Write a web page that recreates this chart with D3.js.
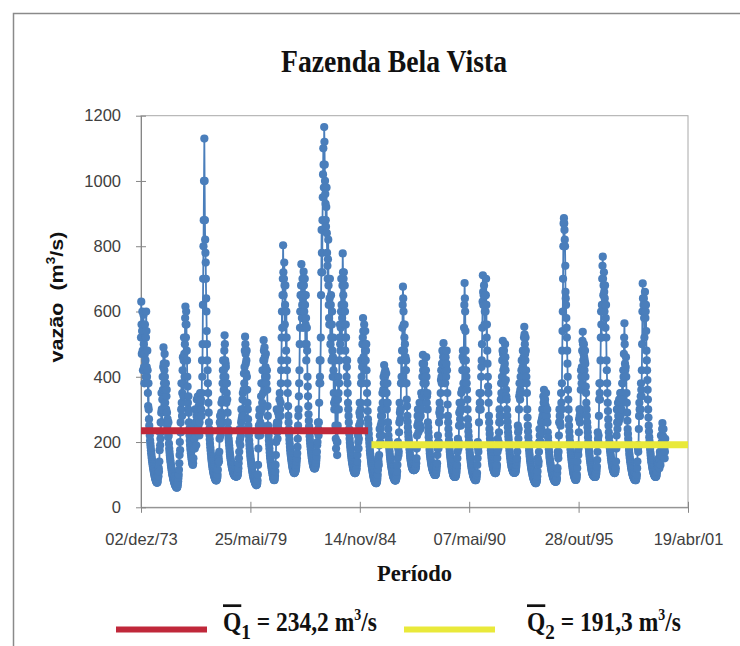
<!DOCTYPE html>
<html><head><meta charset="utf-8">
<script src="https://cdn.jsdelivr.net/npm/d3@7"></script>
<style>body{margin:0;background:#fff} svg{display:block}</style>
</head><body>
<svg id="chart" width="740" height="646"></svg>
<script>
const chartTitle = "Fazenda Bela Vista";
const xTitle = "Período";
const yTicks = [0, 200, 400, 600, 800, 1000, 1200];
const xTickDates = ["1973-12-02", "1979-05-25", "1984-11-14", "1990-05-07", "1995-10-28", "2001-04-19"];
const xTickLabels = ["02/dez/73", "25/mai/79", "14/nov/84", "07/mai/90", "28/out/95", "19/abr/01"];
const meanIndex = ["1", "2"];
const meanValues = [234.2, 191.3];
const meanLabels = ["234,2", "191,3"];
const meanStarts = ["1973-12-02", "1985-06-15"];
const meanEnds = ["1985-04-15", "2001-04-19"];
const meanColors = ["#c0283a", "#e9e93a"];
// series starts December 1973, six readings per month (days 2, 7, 12, 17, 22, 27)
const seriesStartYear = 1973, seriesStartMonth = 11;
const flow = [
/*Dec73-Nov74*/ 520,630,560,470,540,600, 480,420,560,590,500,430, 380,470,560,520,450,400, 520,600,540,430,400,480, 420,350,310,380,300,270, 250,235,220,205,195,185, 175,166,158,150,144,138, 132,126,121,116,111,106, 101,97,93,90,87,84, 81,79,77,76,75,76, 80,88,105,95,120,110, 140,175,230,190,210,260,
/*Dec74-Nov75*/ 230,290,350,300,260,330, 400,360,430,490,440,380, 420,470,400,320,360,440, 380,300,340,360,290,250, 270,230,215,260,220,195, 180,170,160,152,145,138, 130,124,118,112,107,102, 98,94,90,86,83,80, 77,74,71,69,67,65, 63,62,61,60,61,63, 66,72,80,90,100,115, 135,160,200,175,230,260,
/*Dec75-Nov76*/ 230,300,380,320,280,350, 420,460,380,340,450,520, 470,400,500,580,615,560, 520,600,560,480,450,400, 370,320,300,340,290,260, 240,220,205,192,182,174, 166,158,151,145,140,135, 132,130,135,150,180,210, 250,210,180,230,300,260, 220,190,280,330,260,230, 300,340,280,250,310,270, 220,260,330,350,300,320,
/*Dec76-Nov77*/ 330,300,280,350,450,400, 500,620,700,800,880,1000, 1130,1000,880,820,780,750, 700,640,600,540,500,450, 420,380,350,320,290,260, 240,222,208,195,184,174, 164,155,147,140,133,127, 121,116,111,107,103,99, 96,93,90,88,86,84, 83,82,83,85,88,92, 100,115,135,160,150,140, 170,210,260,280,240,220,
/*Dec77-Nov78*/ 250,290,320,280,260,330, 380,420,450,400,360,420, 480,527,500,450,400,440, 430,380,320,350,380,330, 290,260,240,225,210,200, 190,180,170,162,155,149, 143,137,132,127,123,119, 115,112,109,106,103,101, 99,98,97,96,95,95, 94,94,94,95,95,96, 98,102,110,120,135,150, 170,200,240,210,190,230,
/*Dec78-Nov79*/ 220,260,300,270,240,280, 330,350,300,280,360,410, 380,430,480,523,500,470, 440,410,450,480,400,360, 320,300,270,250,235,220, 205,192,180,170,160,152, 144,137,130,124,118,113, 108,103,98,94,90,87, 84,81,78,76,74,72, 70,69,68,68,70,74, 82,100,130,180,220,250, 280,300,250,220,260,290,
/*Dec79-Nov80*/ 300,340,380,300,250,320, 420,380,350,450,512,480, 450,490,460,400,380,430, 470,420,380,400,420,360, 310,280,250,235,220,205, 192,180,168,158,150,142, 136,130,124,118,113,108, 103,98,93,89,86,84, 83,84,88,96,110,130, 160,200,250,300,260,230, 210,250,290,260,240,280, 300,330,350,300,280,320,
/*Dec80-Nov81*/ 380,420,450,520,600,550, 650,700,803,720,650,700, 750,680,560,620,680,600, 520,480,600,520,420,450, 380,350,310,280,260,240, 222,208,196,185,175,166, 158,151,145,139,133,128, 123,119,115,112,109,107, 105,105,106,108,110,112, 116,122,130,140,150,165, 185,210,250,280,300,340, 380,420,500,550,600,650,
/*Dec81-Nov82*/ 600,680,745,650,580,620, 700,640,550,600,722,680, 600,650,700,620,500,560, 650,580,450,500,550,480, 400,370,340,310,285,265, 248,232,218,206,196,187, 178,170,163,156,150,145, 140,135,131,127,124,122, 120,119,119,120,122,125, 130,136,145,155,170,190, 200,230,260,240,220,260, 320,380,450,400,380,450,
/*Dec82-Nov83*/ 520,650,720,850,780,720, 880,950,1020,1100,1050,980, 1165,1120,1050,1000,960,930, 880,860,920,980,840,780, 740,700,760,820,680,620, 580,560,640,700,560,500, 620,650,520,450,560,600, 480,400,460,520,420,350, 320,300,400,450,330,250, 210,180,240,300,200,160, 200,250,330,400,350,300, 380,450,520,560,500,480,
/*Dec83-Nov84*/ 550,600,700,620,520,580, 680,778,720,650,700,720, 620,560,680,600,480,520, 560,520,450,400,430,450, 380,350,320,300,280,260, 240,225,210,198,188,179, 170,162,155,148,142,137, 132,127,122,118,114,111, 109,107,105,105,105,106, 108,111,115,120,130,140, 160,180,220,200,180,210, 250,290,320,280,260,300,
/*Dec84-Nov85*/ 320,380,450,400,380,430, 500,520,580,540,460,500, 560,500,420,480,540,500, 450,480,500,420,380,350, 320,295,270,255,240,225, 210,198,186,175,166,158, 150,143,136,130,124,119, 113,108,103,98,94,90, 87,84,81,79,77,76, 75,74,74,75,78,82, 90,100,115,150,140,130, 160,190,240,220,200,240,
/*Dec85-Nov86*/ 250,280,300,260,220,280, 350,320,300,360,400,380, 436,410,380,400,420,380, 350,380,410,350,300,320, 380,320,260,240,220,205, 192,180,170,160,152,145, 138,132,126,121,116,111, 106,102,98,95,92,90, 88,86,84,83,82,82, 83,85,88,93,100,110, 130,150,200,180,160,170, 230,260,320,290,270,300,
/*Dec86-Nov87*/ 300,380,450,400,380,480, 550,620,676,640,600,560, 480,520,560,500,420,460, 380,420,450,380,330,310, 280,262,245,230,218,208, 198,188,178,168,158,150, 144,139,134,130,126,123, 120,118,116,115,114,114, 114,114,115,116,117,118, 120,125,135,150,180,220, 250,280,300,260,230,250, 270,300,320,280,250,240,
/*Dec87-Nov88*/ 280,320,350,320,300,340, 400,440,467,420,380,400, 440,400,350,380,420,400, 380,420,460,400,320,340, 350,300,260,245,230,215, 200,188,176,166,158,151, 145,139,134,129,125,121, 118,115,112,110,108,106, 104,102,100,99,99,99, 100,103,108,115,125,135, 160,180,220,200,180,200, 260,290,320,300,280,300,
/*Dec88-Nov89*/ 350,390,420,400,380,440, 480,440,400,460,503,470, 450,480,460,420,380,420, 460,430,400,440,480,420, 350,315,280,260,240,222, 205,192,180,170,161,153, 146,139,132,126,121,116, 112,108,104,101,98,96, 95,94,93,93,93,94, 95,98,103,110,120,130, 150,170,210,190,180,200, 250,290,320,290,270,300,
/*Dec89-Nov90*/ 250,300,350,320,300,360, 420,460,480,420,380,450, 550,620,687,640,600,540, 480,450,420,400,380,360, 330,300,270,250,232,218, 203,190,178,167,158,150, 143,136,130,124,119,114, 110,106,102,99,96,93, 91,89,87,86,84,83, 83,84,86,90,97,105, 130,150,200,180,170,190, 260,300,350,320,300,320,
/*Dec90-Nov91*/ 300,350,400,430,450,500, 550,630,711,660,620,650, 680,620,560,600,650,620, 600,650,700,620,520,560, 480,440,400,370,350,320, 280,260,240,225,210,198, 186,175,165,156,148,141, 135,130,125,121,118,115, 112,110,108,106,105,105, 105,106,110,115,122,130, 150,170,210,190,180,200, 230,260,300,280,260,280,
/*Dec91-Nov92*/ 280,330,380,350,330,400, 450,480,510,470,420,450, 480,430,380,440,500,460, 420,390,360,340,330,300, 280,262,245,230,218,208, 196,185,175,165,157,150, 143,137,132,127,123,120, 117,114,112,110,108,107, 106,106,106,106,107,108, 110,115,122,130,140,150, 170,190,250,230,210,240, 300,340,380,350,330,360,
/*Dec92-Nov93*/ 400,380,350,420,450,400, 380,430,480,450,420,460, 520,553,530,500,470,450, 520,480,420,400,380,350, 300,275,250,232,215,200, 186,175,165,156,148,141, 134,128,122,117,112,108, 104,100,96,93,90,87, 84,82,80,78,76,75, 74,74,75,77,80,85, 95,110,150,140,130,140, 170,200,240,220,200,220,
/*Dec93-Nov94*/ 200,230,260,240,230,270, 300,280,260,300,340,320, 360,330,300,320,330,300, 280,310,350,300,260,280, 300,260,230,215,200,188, 178,168,158,150,143,137, 131,125,120,115,111,107, 103,99,96,93,90,88, 86,84,82,80,79,79, 78,78,79,81,85,90, 105,120,170,160,150,170, 220,260,300,280,260,280,
/*Dec94-Nov95*/ 250,300,350,320,300,380, 480,540,600,700,800,870, 886,870,850,820,800,740, 660,640,620,580,550,520, 480,440,400,360,330,300, 270,250,232,216,202,190, 178,168,159,151,144,137, 130,124,118,112,107,103, 99,96,93,90,88,86, 84,84,85,87,92,100, 120,140,190,170,160,180, 230,270,300,280,260,290,
/*Dec95-Nov96*/ 300,360,420,400,380,430, 480,510,538,500,450,470, 500,460,420,450,480,440, 400,370,350,320,300,280, 260,245,230,215,200,190, 180,171,162,154,147,140, 134,128,122,117,113,109, 106,103,101,99,97,96, 95,94,93,93,93,93, 94,96,100,106,115,125, 145,170,230,210,200,220, 280,330,380,350,330,380,
/*Dec96-Nov97*/ 450,520,600,560,520,620, 700,740,768,700,650,680, 720,660,600,640,680,620, 550,580,620,520,450,420, 380,350,320,295,270,250, 230,215,200,190,180,172, 164,157,150,144,138,133, 128,123,119,115,112,110, 108,106,105,105,106,108, 112,120,140,180,220,300, 260,240,300,320,280,260, 300,330,290,270,320,350,
/*Dec97-Nov98*/ 280,320,350,320,300,340, 380,350,330,380,420,400, 470,520,564,500,440,420, 400,430,460,400,350,320, 290,265,240,225,210,198, 187,176,165,157,150,143, 137,131,125,120,115,111, 107,103,100,97,95,92, 90,88,86,85,84,84, 83,83,85,88,93,100, 120,140,190,180,170,190, 240,280,320,300,280,300,
/*Dec98-Nov99*/ 300,340,380,360,340,420, 500,600,686,640,600,620, 640,580,520,600,660,620, 580,600,620,540,480,450, 420,390,360,330,300,275, 250,232,215,202,190,179, 168,159,150,143,138,133, 127,122,118,114,110,107, 104,101,99,97,95,94, 93,93,94,95,98,105, 110,125,140,130,125,135, 150,135,120,145,170,160,
/*Dec99-Feb00*/ 130,160,220,190,160,200, 240,258,220,190,215,240, 210,200,180,150,170,210
];

const parse = s => { const [Y, M, D] = s.split("-").map(Number); return new Date(Date.UTC(Y, M - 1, D)); };
const flowData = flow.map((v, i) => ({
  date: new Date(Date.UTC(seriesStartYear, seriesStartMonth + Math.floor(i / 6), 2 + 5 * (i % 6))),
  value: v
}));

const svg = d3.select("#chart");
const W = 740, H = 646;
const plot = {left: 141, right: 688, top: 115.7, bottom: 507.3};
const x = d3.scaleUtc().domain([parse(xTickDates[0]), parse(xTickDates[xTickDates.length - 1])]).range([plot.left, plot.right]);
const y = d3.scaleLinear().domain([0, 1200]).range([plot.bottom, plot.top]);

svg.append("rect").attr("width", W).attr("height", H).attr("fill", "#fff");
// outer chart frame
svg.append("rect").attr("x", 13.5).attr("y", 13.5).attr("width", 800).attr("height", 800)
  .attr("fill", "none").attr("stroke", "#8a8a8a").attr("stroke-width", 1.5);

// plot area border
svg.append("rect").attr("x", plot.left).attr("y", plot.top)
  .attr("width", plot.right - plot.left).attr("height", plot.bottom - plot.top)
  .attr("fill", "none").attr("stroke", "#a8a8a8").attr("stroke-width", 1);

const sans = "'Liberation Sans', Arial, sans-serif";
const serif = "'Liberation Serif', 'Times New Roman', serif";

// Y axis
const yAxis = svg.append("g").attr("transform", `translate(${plot.left},0)`)
  .call(d3.axisLeft(y).tickValues(yTicks).tickFormat(d3.format("d")).tickSizeInner(5).tickSizeOuter(0).tickPadding(15));
yAxis.select(".domain").attr("stroke", "#868686");
yAxis.selectAll(".tick line").attr("x1", 5).attr("x2", -5).attr("stroke", "#868686");
yAxis.selectAll(".tick text").attr("font-family", sans).attr("font-size", "16.5px").attr("fill", "#404040");

// X axis
const xAxis = svg.append("g").attr("transform", `translate(0,${plot.bottom})`)
  .call(d3.axisBottom(x).tickValues(xTickDates.map(parse)).tickSizeInner(5).tickSizeOuter(0)
    .tickFormat((d, i) => xTickLabels[i]));
xAxis.select(".domain").attr("stroke", "#868686");
xAxis.selectAll(".tick line").attr("y1", -5.5).attr("y2", 5.5).attr("stroke", "#868686");
xAxis.selectAll(".tick text").attr("font-family", sans).attr("font-size", "16.5px").attr("fill", "#404040")
  .attr("y", 545 - plot.bottom).attr("dy", 0);

// series
const blue = "#4a7ebb";
svg.append("path").datum(flowData)
  .attr("fill", "none").attr("stroke", blue).attr("stroke-width", 1.8)
  .attr("d", d3.line().x(d => x(d.date)).y(d => y(d.value)));
svg.append("g").selectAll("circle").data(flowData).join("circle")
  .attr("cx", d => x(d.date)).attr("cy", d => y(d.value)).attr("r", 4.1).attr("fill", blue);

// mean lines
svg.append("g").selectAll("line").data(meanValues).join("line")
  .attr("x1", (d, i) => x(parse(meanStarts[i]))).attr("x2", (d, i) => x(parse(meanEnds[i])))
  .attr("y1", d => y(d)).attr("y2", d => y(d))
  .attr("stroke", (d, i) => meanColors[i]).attr("stroke-width", 7);

// title
svg.append("text").attr("x", 394).attr("y", 71.5).attr("text-anchor", "middle")
  .attr("font-family", serif).attr("font-weight", "bold").attr("font-size", "32px").attr("fill", "#111")
  .attr("textLength", 226).attr("lengthAdjust", "spacingAndGlyphs").text(chartTitle);

// x title
svg.append("text").attr("x", 414.5).attr("y", 580.5).attr("text-anchor", "middle")
  .attr("font-family", serif).attr("font-weight", "bold").attr("font-size", "24px").attr("fill", "#111")
  .attr("textLength", 75).attr("lengthAdjust", "spacingAndGlyphs").text(xTitle);

// y title
const yt = svg.append("text").attr("transform", "translate(63,297) rotate(-90)").attr("text-anchor", "middle")
  .attr("font-family", sans).attr("font-weight", "bold").attr("font-size", "19px").attr("fill", "#111")
  .style("white-space", "pre").attr("textLength", 131).attr("lengthAdjust", "spacingAndGlyphs");
yt.append("tspan").text("vazão  (m");
yt.append("tspan").attr("font-size", "12px").attr("dy", -8).text("3");
yt.append("tspan").attr("dy", 8).text("/s)");

// legend
const legX = [116, 404], legTextX = [223, 527];
meanValues.forEach((v, i) => {
  svg.append("line").attr("x1", legX[i]).attr("x2", legX[i] + 91).attr("y1", 629.5).attr("y2", 629.5)
    .attr("stroke", meanColors[i]).attr("stroke-width", 6);
  const t = svg.append("text").attr("transform", `translate(${legTextX[i]},631) scale(0.87,1)`)
    .attr("font-family", serif).attr("font-weight", "bold").attr("font-size", "27px").attr("fill", "#111")
    .style("white-space", "pre");
  t.append("tspan").style("text-decoration", "overline").text("Q");
  t.append("tspan").attr("font-size", "22px").attr("dy", 8).text(meanIndex[i]);
  t.append("tspan").attr("dy", -8).text(" = " + meanLabels[i] + " m");
  t.append("tspan").attr("font-size", "16px").attr("dy", -11).text("3");
  t.append("tspan").attr("dy", 11).text("/s");
});
</script>
</body></html>
